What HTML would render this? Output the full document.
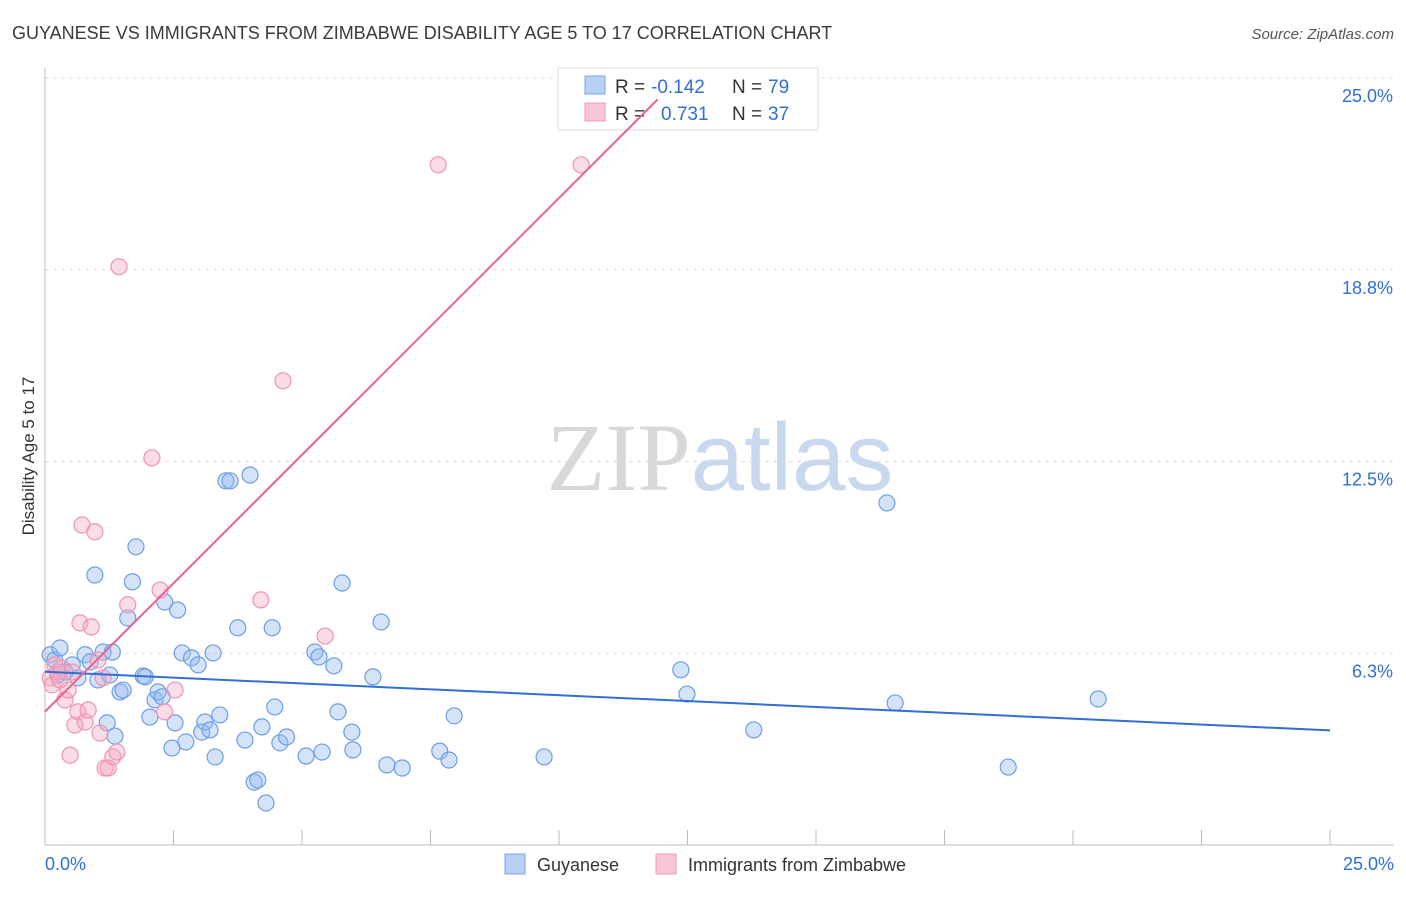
<!DOCTYPE html>
<html><head><meta charset="utf-8"><style>
body{margin:0;background:#fff;font-family:"Liberation Sans",sans-serif;}
svg text{font-family:"Liberation Sans",sans-serif;}
</style></head><body>
<svg id="chart" width="1406" height="892" viewBox="0 0 1406 892" xmlns="http://www.w3.org/2000/svg">
<text x="12" y="39" font-size="18" fill="#3a3a3a">GUYANESE VS IMMIGRANTS FROM ZIMBABWE DISABILITY AGE 5 TO 17 CORRELATION CHART</text>
<text x="1394" y="39" font-size="15" font-style="italic" fill="#555" text-anchor="end">Source: ZipAtlas.com</text>
<text x="720" y="490" font-size="96" text-anchor="middle"><tspan fill="#d8d8d8" font-family="Liberation Serif">ZIP</tspan><tspan fill="#c8d8ee">atlas</tspan></text>
<g id="grid"></g>
<g id="axes"></g>
<g>
<rect x="558" y="68" width="260" height="62" fill="#fff" stroke="#ddd"/>
<rect x="585" y="76" width="20" height="18" fill="#b8d0f4" stroke="#7aa6e6"/>
<rect x="585" y="103" width="20" height="18" fill="#f9c6d6" stroke="#ef9ab6"/>
<text x="615" y="93" font-size="19" fill="#333">R =</text>
<text x="651" y="93" font-size="19" fill="#2f6fd6">-0.142</text>
<text x="732" y="93" font-size="19" fill="#333">N =</text>
<text x="768" y="93" font-size="19" fill="#2f6fd6">79</text>
<text x="615" y="120" font-size="19" fill="#333">R =</text>
<text x="661" y="120" font-size="19" fill="#2f6fd6">0.731</text>
<text x="732" y="120" font-size="19" fill="#333">N =</text>
<text x="768" y="120" font-size="19" fill="#2f6fd6">37</text>
</g>
<g id="marks"></g>
<text transform="translate(34,456) rotate(-90)" font-size="17" fill="#333" text-anchor="middle">Disability Age 5 to 17</text>
<g>
<rect x="505" y="854" width="20" height="20" fill="#b8d0f4" stroke="#7aa6e6"/>
<text x="537" y="871" font-size="18" fill="#333">Guyanese</text>
<rect x="656" y="854" width="20" height="20" fill="#f9c6d6" stroke="#ef9ab6"/>
<text x="688" y="871" font-size="18" fill="#333">Immigrants from Zimbabwe</text>
</g>
</svg>
<script>
const blueX=[0.1,0.19,0.29,0.25,0.39,0.53,0.64,0.78,0.88,0.97,1.03,1.13,1.26,1.31,1.21,1.36,1.46,1.52,1.61,1.70,1.77,1.91,1.95,2.04,2.14,2.20,2.28,2.33,2.47,2.53,2.58,2.67,2.74,2.85,2.98,3.05,3.11,3.21,3.27,3.31,3.40,3.52,3.60,3.75,3.89,3.99,4.07,4.14,4.22,4.30,4.42,4.47,4.57,4.70,5.08,5.25,5.33,5.39,5.62,5.70,5.78,5.97,5.99,6.38,6.54,6.65,6.95,7.68,7.86,7.96,9.71,12.37,12.49,13.79,16.38,16.54,18.74,20.49];
const blueY=[6.2,6.03,6.42,5.54,5.64,5.87,5.45,6.2,5.97,8.8,5.38,6.29,5.54,6.29,3.98,3.55,4.99,5.05,7.4,8.58,9.72,5.51,5.48,4.17,4.73,4.99,4.83,7.92,3.16,3.98,7.66,6.26,3.36,6.1,5.87,3.68,4.01,3.75,6.26,2.87,4.24,11.87,11.87,7.08,3.42,12.06,2.05,2.12,3.85,1.37,7.08,4.5,3.33,3.52,2.9,6.29,6.13,3.03,5.84,4.34,8.54,3.68,3.1,5.48,7.27,2.61,2.51,3.06,2.77,4.21,2.87,5.71,4.92,3.75,11.15,4.63,2.54,4.76];
const pinkX=[0.1,0.14,0.19,0.25,0.33,0.39,0.45,0.49,0.58,0.64,0.68,0.72,0.78,0.84,0.90,0.97,1.07,1.03,1.13,1.17,1.23,1.32,1.40,1.44,1.61,2.08,2.24,2.33,2.53,4.20,4.63,5.45,7.65,10.43,0.29,0.53];
const pinkY=[5.45,5.22,5.87,5.64,5.77,4.73,5.05,2.93,3.91,4.34,7.24,10.43,4.01,4.4,7.11,10.21,3.65,6.03,5.45,2.51,2.51,2.87,3.03,18.85,7.83,12.62,8.31,4.34,5.05,7.99,15.13,6.81,22.17,22.17,5.38,5.64];
const yTicks=[6.25,12.5,18.75,25];
const yTickLabels=["6.3%","12.5%","18.8%","25.0%"];
const xTicks=[0,2.5,5,7.5,10,12.5,15,17.5,20,22.5,25];
const NS="http://www.w3.org/2000/svg";
const X0=45,X1=1330,Y0=845,Y1=78;
const sx=v=>X0+(X1-X0)*v/25, sy=v=>Y0-(Y0-Y1)*v/25;
function mk(tag,attrs,parent){const e=document.createElementNS(NS,tag);for(const k in attrs)e.setAttribute(k,attrs[k]);document.getElementById(parent).appendChild(e);return e;}
yTicks.forEach((t,i)=>{
 const l=mk('line',{x1:X0,x2:1394,y1:sy(t),y2:sy(t),stroke:'#ddd','stroke-dasharray':'4,4'},'grid');
 
 
 const tx=mk('text',{x:1393,y:sy(t)+24,'font-size':18,fill:'#2f6fd6','text-anchor':'end'},'axes');
 tx.textContent=yTickLabels[i];
 
 
});
const ax=mk('line',{x1:X0,x2:1394,y1:Y0,y2:Y0,stroke:'#bbb'},'axes');


const ay=mk('line',{x1:X0,x2:X0,y1:68,y2:Y0,stroke:'#bbb'},'axes');


xTicks.forEach(t=>{const l=mk('line',{x1:sx(t),x2:sx(t),y1:Y0-15,y2:Y0,stroke:'#bbb'},'axes');
 
 });
const xl0=mk('text',{x:45,y:870,'font-size':18,fill:'#2f6fd6'},'axes');xl0.textContent='0.0%';


const xl1=mk('text',{x:1394,y:870,'font-size':18,fill:'#2f6fd6','text-anchor':'end'},'axes');xl1.textContent='25.0%';


function fit(xs,ys){const n=xs.length;let mx=0,my=0;for(let i=0;i<n;i++){mx+=xs[i];my+=ys[i];}mx/=n;my/=n;let sxy=0,sxx=0;for(let i=0;i<n;i++){sxy+=(xs[i]-mx)*(ys[i]-my);sxx+=(xs[i]-mx)**2;}const b=sxy/sxx;return [my-b*mx,b];}
function pts(xs,ys,fill,stroke,name){xs.forEach((x,i)=>{const c=mk('circle',{cx:sx(x),cy:sy(ys[i]),r:8,fill:fill,stroke:stroke,'stroke-width':1.2},'marks');
 
 });}
pts(blueX,blueY,'rgba(150,185,240,0.4)','#6b9ee6','guyanese-point');
pts(pinkX,pinkY,'rgba(246,170,195,0.4)','#ee93b2','zimbabwe-point');
let [a,b]=fit(blueX,blueY);
const bl=mk('line',{x1:sx(0),y1:sy(a),x2:sx(25),y2:sy(a+b*25),stroke:'#2f6fd6','stroke-width':2},'marks');


[a,b]=fit(pinkX,pinkY);
let xe=25;if(a+b*25>24.3)xe=(24.3-a)/b;
const pl=mk('line',{x1:sx(0),y1:sy(a),x2:sx(xe),y2:sy(a+b*xe),stroke:'#e8638f','stroke-width':2},'marks');


</script>
</body></html>
